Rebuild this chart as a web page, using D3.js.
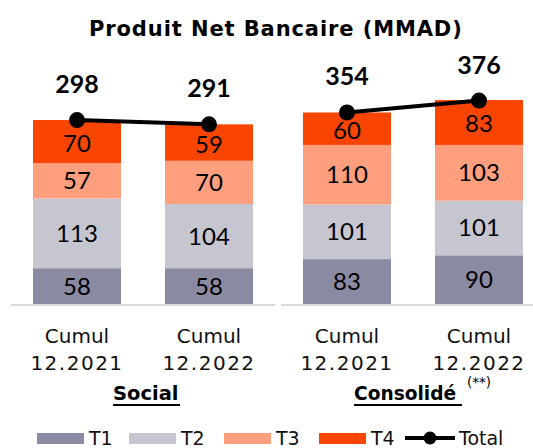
<!DOCTYPE html>
<html><head><meta charset="utf-8">
<script src="https://cdn.jsdelivr.net/npm/d3@7"></script>
<style>body{margin:0;background:#fff}svg{display:block}</style>
</head><body>
<script>
const categories = ["Cumul|12.2021","Cumul|12.2022","Cumul|12.2021","Cumul|12.2022"];
const groups = ["Social","Social","Consolidé","Consolidé"];
const T1 = [58,58,83,90];
const T2 = [113,104,101,101];
const T3 = [57,70,110,103];
const T4 = [70,59,60,83];
const totals = [298,291,354,376];
const seriesNames = ["T1","T2","T3","T4"];
const colors = ["#8a8aa3","#c6c6d1","#ff9f7e","#f94500"];

const W=533,H=448;
const svg=d3.select("body").append("svg").attr("width",W).attr("height",H);
const base=304;
const yS=d3.scaleLinear().domain([0,300]).range([base,118.8]);
const yC=d3.scaleLinear().domain([0,400]).range([base,87.6]);
const xS=d3.scaleBand().domain([0,1]).range([11,275]).paddingInner(1/3).paddingOuter(1/6);
const xC=d3.scaleBand().domain([2,3]).range([281,545]).paddingInner(1/3).paddingOuter(1/6);
const xOf=i=> i<2?xS(i):xC(i);
const bw=i=> i<2?xS.bandwidth():xC.bandwidth();
const yOf=i=> i<2?yS:yC;
const geo="'DejaVu Sans'";

svg.append("text").attr("x",89).attr("y",36)
 .style("font-family",geo).style("font-weight","bold").style("font-size","21px").style("letter-spacing","0.9px").text("Produit Net Bancaire (MMAD)");

// axis lines
svg.append("line").attr("x1",11).attr("x2",275).attr("y1",base+1).attr("y2",base+1).attr("stroke","#d9d9d9").attr("stroke-width",2);
svg.append("line").attr("x1",281).attr("x2",533).attr("y1",base+1).attr("y2",base+1).attr("stroke","#d9d9d9").attr("stroke-width",2);

const rows=categories.map((c,i)=>({i,T1:T1[i],T2:T2[i],T3:T3[i],T4:T4[i]}));
const stack=d3.stack().keys(seriesNames)(rows);
stack.forEach((s,k)=>{
  s.forEach((d,i)=>{
    const y=yOf(i);
    svg.append("rect").attr("x",xOf(i)).attr("width",bw(i)).attr("y",y(d[1])).attr("height",y(d[0])-y(d[1])).attr("fill",colors[k]);
    svg.append("text").attr("x",xOf(i)+bw(i)/2).attr("y",(y(d[0])+y(d[1]))/2+ (k==3?10:8.5)).attr("text-anchor","middle")
      .style("font-family","Lato").style("font-size","24px").attr("fill","#000").text(d[1]-d[0]);
  });
});

// total lines
[[0,1],[2,3]].forEach(pair=>{
  const line=d3.line().x(i=>xOf(i)+bw(i)/2).y(i=>yOf(i)(totals[i]));
  svg.append("path").attr("d",line(pair)).attr("stroke","#000").attr("stroke-width",4).attr("fill","none");
  pair.forEach(i=>{
    svg.append("circle").attr("cx",xOf(i)+bw(i)/2).attr("cy",yOf(i)(totals[i])).attr("r",8).attr("fill","#000");
    svg.append("text").attr("x",xOf(i)+bw(i)/2).attr("y",yOf(i)(totals[i])-27).attr("text-anchor","middle")
      .style("font-family","Lato").style("font-weight","bold").style("font-size","25px").text(totals[i]);
  });
});

// category labels
categories.forEach((c,i)=>{
  const [a,b]=c.split("|");
  const t=svg.append("text").attr("text-anchor","middle").style("font-family",geo).style("font-size","20px").attr("fill","#111");
  t.append("tspan").attr("x",xOf(i)+bw(i)/2).attr("y",343).text(a);
  t.append("tspan").attr("x",xOf(i)+bw(i)/2).attr("y",370).style("letter-spacing","1.5px").text(b);
});

// group labels
svg.append("text").attr("x",113).attr("y",400).style("font-family",geo).style("font-weight","bold").style("font-size","19.5px").text(groups[0]);
svg.append("line").attr("x1",113).attr("x2",180).attr("y1",405).attr("y2",405).attr("stroke","#000").attr("stroke-width",2);
svg.append("text").attr("x",354).attr("y",400).style("font-family",geo).style("font-weight","bold").style("font-size","18.6px").text(groups[2]);
svg.append("line").attr("x1",354).attr("x2",462).attr("y1",405).attr("y2",405).attr("stroke","#000").attr("stroke-width",2);
svg.append("text").attr("x",467).attr("y",387).style("font-family",geo).style("font-size","13.5px").text("(**)");

// legend
const legX=[37,129,224,319];
seriesNames.forEach((n,k)=>{
  svg.append("rect").attr("x",legX[k]).attr("y",433).attr("width",47).attr("height",11).attr("fill",colors[k]);
  svg.append("text").attr("x",legX[k]+52).attr("y",445).style("font-family",geo).style("font-size","19px").attr("fill","#111").text(n);
});
svg.append("line").attr("x1",405).attr("x2",455).attr("y1",438).attr("y2",438).attr("stroke","#000").attr("stroke-width",4);
svg.append("circle").attr("cx",430).attr("cy",438).attr("r",6.5).attr("fill","#000");
svg.append("text").attr("x",459).attr("y",445).style("font-family",geo).style("font-size","19px").attr("fill","#111").text("Total");
</script>
</body></html>
